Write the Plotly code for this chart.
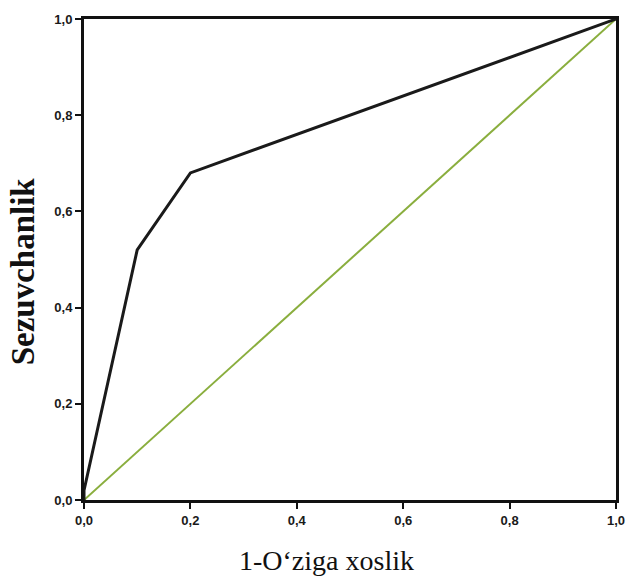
import plotly.graph_objects as go

fpr = [0.0, 0.0, 0.1, 0.2, 1.0]
tpr = [0.0, 0.02, 0.52, 0.68, 1.0]
ref_x = [0.0, 1.0]
ref_y = [0.0, 1.0]
tick_vals = [0.0, 0.2, 0.4, 0.6, 0.8, 1.0]
tick_text = ["<b>0,0</b>", "<b>0,2</b>", "<b>0,4</b>", "<b>0,6</b>", "<b>0,8</b>", "<b>1,0</b>"]
x_title = "1-O‘ziga xoslik"
y_title = "<b>Sezuvchanlik</b>"

fig = go.Figure()
fig.add_trace(go.Scatter(x=ref_x, y=ref_y, mode="lines",
                         line=dict(color="#8aae3e", width=2), showlegend=False))
fig.add_trace(go.Scatter(x=fpr, y=tpr, mode="lines",
                         line=dict(color="#1a1a1a", width=3), showlegend=False))

axis_common = dict(
    range=[0, 1], tickvals=tick_vals, ticktext=tick_text,
    ticks="outside", ticklen=6, tickwidth=2, tickcolor="#111",
    showline=True, linewidth=3, linecolor="#111", mirror=True,
    showgrid=False, zeroline=False,
    tickfont=dict(family="Liberation Sans, Arial", size=13, color="#1a1a1a"),
)

fig.update_layout(
    width=637, height=579,
    margin=dict(l=84, r=14, t=15, b=79),
    plot_bgcolor="white", paper_bgcolor="white",
    xaxis=dict(**axis_common),
    yaxis=dict(**axis_common),
)
fig.add_annotation(text=x_title, xref="paper", yref="paper", x=0.455, y=-0.125,
                   xanchor="center", yanchor="middle", showarrow=False,
                   font=dict(family="Liberation Serif, Times New Roman", size=28, color="#111"))
fig.add_annotation(text=y_title, xref="paper", yref="paper", x=-0.115, y=0.475,
                   xanchor="center", yanchor="middle", showarrow=False, textangle=-90,
                   font=dict(family="Liberation Serif, Times New Roman", size=33, color="#111"))
fig.write_html("out.html")
